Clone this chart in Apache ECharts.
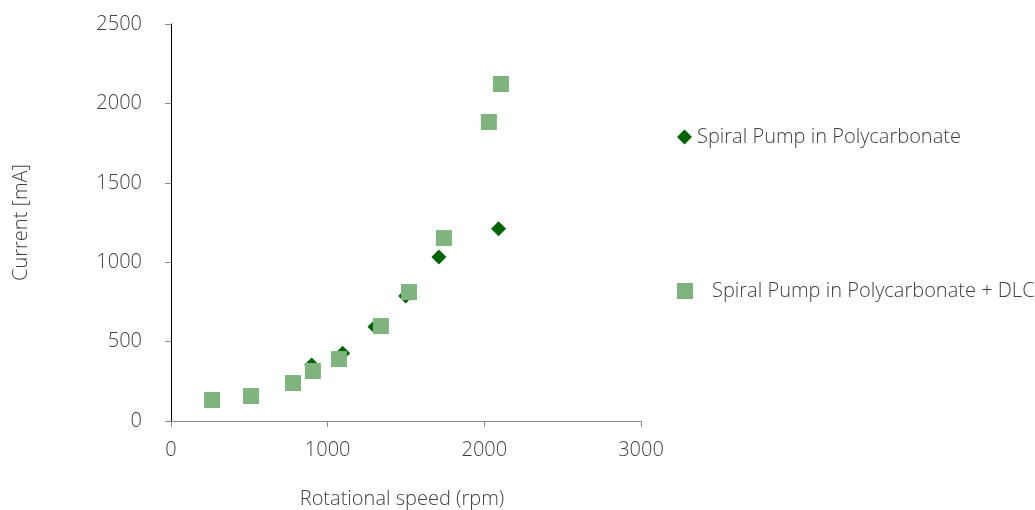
<!DOCTYPE html>
<html>
<head>
<meta charset="utf-8">
<script src="https://cdn.jsdelivr.net/npm/echarts@6/dist/echarts.min.js"></script>
<style>
  html, body { margin: 0; padding: 0; background: #fff; }
  #chart { width: 1035px; height: 510px; }
</style>
</head>
<body>
<div id="chart"></div>
<script>
// series names
var seriesNames = ['Spiral Pump in Polycarbonate', 'Spiral Pump in Polycarbonate + DLC'];

// Polycarbonate: rpm / mA
var pcSpeed   = [898, 1096, 1302, 1498, 1710, 2091];
var pcCurrent = [353, 426, 594, 787, 1032, 1211];

// Polycarbonate + DLC: rpm / mA
var dlcSpeed   = [262, 511, 779, 906, 1072, 1340, 1519, 1742, 2029, 2106];
var dlcCurrent = [132, 157, 239, 315, 390, 598, 812, 1152, 1883, 2122];

function pairs(xs, ys) {
  return xs.map(function (x, i) { return [x, ys[i]]; });
}

var font = '"Open Sans", "Noto Sans", sans-serif';
var textColor = '#404040';
var fs = 20;
var plain = function (v) { return String(v); };

var chart = echarts.init(document.getElementById('chart'));
chart.setOption({
  animation: false,
  grid: { left: 171, right: 394, top: 24, bottom: 89, outerBoundsMode: 'none', containLabel: false },
  legend: [
    {
      data: [seriesNames[0]],
      orient: 'vertical', left: 677, top: 127, padding: 0,
      itemWidth: 15, itemHeight: 15,
      textStyle: { fontFamily: font, fontSize: fs, fontWeight: 300, color: textColor }
    },
    {
      data: [seriesNames[1]],
      orient: 'vertical', left: 677, top: 281, padding: 0,
      itemWidth: 16, itemHeight: 16,
      textStyle: { fontFamily: font, fontSize: fs, fontWeight: 300, color: textColor, padding: [0, 0, 0, 14] }
    }
  ],
  xAxis: {
    type: 'value', min: 0, max: 3000, interval: 1000,
    name: 'Rotational speed (rpm)', nameLocation: 'middle', nameGap: 68,
    nameTextStyle: { fontFamily: font, fontSize: fs, fontWeight: 300, color: textColor, padding: [0, 8, 0, 0] },
    axisLine: { show: true, onZero: false, lineStyle: { color: '#8c8c8c', width: 1 } },
    axisTick: { show: true, length: 6, lineStyle: { color: '#8c8c8c' } },
    axisLabel: { margin: 19, fontFamily: font, fontSize: fs, fontWeight: 300, color: textColor, formatter: plain },
    splitLine: { show: false }
  },
  yAxis: {
    type: 'value', min: 0, max: 2500, interval: 500,
    name: 'Current [mA]', nameLocation: 'middle', nameGap: 140, nameRotate: 90,
    nameTextStyle: { fontFamily: font, fontSize: fs, fontWeight: 300, color: textColor },
    axisLine: { show: true, lineStyle: { color: '#000', width: 1 } },
    axisTick: { show: true, length: 6, lineStyle: { color: '#8c8c8c' } },
    axisLabel: { margin: 29, fontFamily: font, fontSize: fs, fontWeight: 300, color: textColor, formatter: plain },
    splitLine: { show: false }
  },
  series: [
    {
      name: seriesNames[0], type: 'scatter', z: 2,
      symbol: 'diamond', symbolSize: 15,
      itemStyle: { color: '#006400', opacity: 1 },
      data: pairs(pcSpeed, pcCurrent)
    },
    {
      name: seriesNames[1], type: 'scatter', z: 3,
      symbol: 'rect', symbolSize: 16,
      itemStyle: { color: '#80b47f', opacity: 1 },
      data: pairs(dlcSpeed, dlcCurrent)
    }
  ]
});
</script>
</body>
</html>
